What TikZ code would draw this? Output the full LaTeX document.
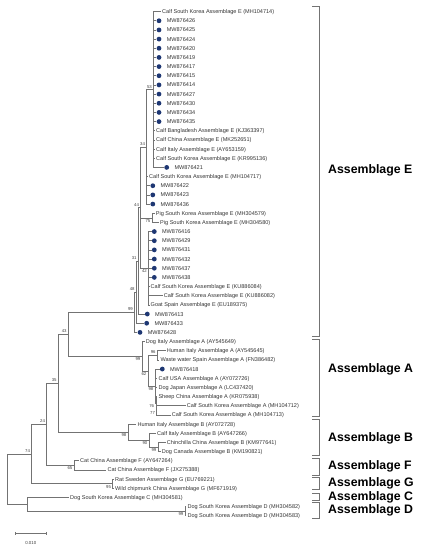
\documentclass[tikz,border=0pt]{standalone}
\usepackage{fontspec}
\setmainfont{Liberation Sans}
\usetikzlibrary{positioning}
\definecolor{dotblue}{RGB}{30,55,115}
\definecolor{treegray}{RGB}{115,115,115}

\begin{document}
\begin{tikzpicture}[
  x=1pt, y=-1pt,
  branch/.style={draw=treegray, line width=0.55pt},
  leaf/.style={anchor=west, inner sep=1pt, text height=4pt, text depth=0pt, font=\fontsize{5.55}{6}\selectfont, text=black!80},
  sample/.style={circle, fill=dotblue, inner sep=0pt, minimum size=4.8pt},
  bootup/.style={anchor=south east, inner sep=0pt, xshift=-1.5pt, yshift=1.2pt, font=\fontsize{4.3}{5}\selectfont, text=black!75},
  bootdown/.style={anchor=north east, inner sep=0pt, xshift=-1.5pt, yshift=-1.2pt, font=\fontsize{4.3}{5}\selectfont, text=black!75},
  group/.style={draw=treegray, line width=0.55pt},
  grouplabel/.style={anchor=west, inner sep=0pt, font=\fontsize{12.3}{14}\selectfont\bfseries}
]
  \useasboundingbox (0,0) rectangle (421,550);

  % Internal nodes, named after their bootstrap values
  \coordinate (e53) at (153.5,89.5);
  \coordinate (e34) at (146.7,146.8);
  \coordinate (e75) at (152.0,217.8);
  \coordinate (e42) at (148.5,268.2);
  \coordinate (e44) at (140.7,207.5);
  \coordinate (e31) at (138.3,260.8);
  \coordinate (e48) at (136.3,292.0);
  \coordinate (e99) at (134.5,312.2);
  \coordinate (a96) at (157.3,355.3);
  \coordinate (a77) at (156.6,410.3);
  \coordinate (a76) at (155.8,403.4);
  \coordinate (a98) at (155.0,386.2);
  \coordinate (a62) at (148.0,370.8);
  \coordinate (a99) at (142.0,356.2);
  \coordinate (n43) at (68.3,334.2);
  \coordinate (b99) at (158.0,446.9);
  \coordinate (b90) at (149.0,440.0);
  \coordinate (b98) at (128.0,432.0);
  \coordinate (n35) at (58.3,383.1);
  \coordinate (f65) at (74.0,465.3);
  \coordinate (n24) at (46.7,424.2);
  \coordinate (g95) at (112.7,483.6);
  \coordinate (n74) at (31.7,453.9);
  \coordinate (d99) at (185.0,511.1);
  \coordinate (cd) at (27.3,504.2);
  \coordinate (root) at (7.3,479.05);

  % Assemblage E leaves
  \node[leaf] (mh104714) at (161,11.6) {Calf South Korea Assemblage E (MH104714)};
  \foreach \r/\id in {1/426,2/425,3/424,4/420,5/419,6/417,7/415,8/414,9/427,10/430,11/434,12/435}{
    \node[sample] (s\id) at (159,{11.6+9.165*\r}) {};
    \node[leaf, right=4pt of s\id] (t\id) {MW876\id};
  }
  \node[leaf] (kj363397) at (155,130.75) {Calf Bangladesh Assemblage E (KJ363397)};
  \node[leaf] (mk252651) at (155,139.91) {Calf China Assemblage E (MK252651)};
  \node[leaf] (ay653159) at (155,149.08) {Calf Italy Assemblage E (AY653159)};
  \node[leaf] (kr995136) at (155,158.24) {Calf South Korea Assemblage E (KR995136)};
  \node[sample] (s421) at (166.7,167.41) {};
  \node[leaf, right=4pt of s421] (t421) {MW876421};
  \node[leaf] (mh104717) at (148,176.57) {Calf South Korea Assemblage E (MH104717)};
  \foreach \r/\id in {19/422,20/423,21/436}{
    \node[sample] (s\id) at (152.8,{11.6+9.165*\r}) {};
    \node[leaf, right=4pt of s\id] (t\id) {MW876\id};
  }
  \node[leaf] (mh304579) at (154.7,213.23) {Pig South Korea Assemblage E (MH304579)};
  \node[leaf] (mh304580) at (159,222.40) {Pig South Korea Assemblage E (MH304580)};
  \foreach \r/\id in {24/416,25/429,26/431,27/432,28/437,29/438}{
    \node[sample] (s\id) at (154.3,{11.6+9.165*\r}) {};
    \node[leaf, right=4pt of s\id] (t\id) {MW876\id};
  }
  \node[leaf] (ku886084) at (149.5,286.55) {Calf South Korea Assemblage E (KU886084)};
  \node[leaf] (ku886082) at (162.7,295.72) {Calf South Korea Assemblage E (KU886082)};
  \node[leaf] (eu189375) at (149.5,304.88) {Goat Spain Assemblage E (EU189375)};
  \foreach \x/\r/\id in {147.3/33/413,146.7/34/433,140/35/428}{
    \node[sample] (s\id) at (\x,{11.6+9.165*\r}) {};
    \node[leaf, right=4pt of s\id] (t\id) {MW876\id};
  }

  % Assemblage A leaves
  \node[leaf] (ay545649) at (144.7,341.54) {Dog Italy Assemblage A (AY545649)};
  \node[leaf] (ay545645) at (165.7,350.71) {Human Italy Assemblage A (AY545645)};
  \node[leaf] (fn386482) at (159.3,359.87) {Waste water Spain Assemblage A (FN386482)};
  \node[sample] (s418) at (162.3,369.04) {};
  \node[leaf, right=4pt of s418] (t418) {MW876418};
  \node[leaf] (ay072726) at (157.3,378.20) {Calf USA Assemblage A (AY072726)};
  \node[leaf] (lc437420) at (157.3,387.37) {Dog Japan Assemblage A (LC437420)};
  \node[leaf] (kr075938) at (157.3,396.53) {Sheep China Assemblage A (KR075938)};
  \node[leaf] (mh104712) at (185.7,405.70) {Calf South Korea Assemblage A (MH104712)};
  \node[leaf] (mh104713) at (170.7,414.86) {Calf South Korea Assemblage A (MH104713)};

  % Assemblages B, F, G, C, D leaves
  \node[leaf] (ay072728) at (136.3,424.03) {Human Italy Assemblage B (AY072728)};
  \node[leaf] (ay647266) at (156,433.19) {Calf Italy Assemblage B (AY647266)};
  \node[leaf] (km977641) at (165.7,442.36) {Chinchilla China Assemblage B (KM977641)};
  \node[leaf] (km190821) at (160.7,451.52) {Dog Canada Assemblage B (KM190821)};
  \node[leaf] (ay647264) at (79,460.69) {Cat China Assemblage F (AY647264)};
  \node[leaf] (jx275388) at (106.3,469.85) {Cat China Assemblage F (JX275388)};
  \node[leaf] (eu769221) at (114,479.02) {Rat Sweden Assemblage G (EU769221)};
  \node[leaf] (mf671919) at (114,488.18) {Wild chipmunk China Assemblage G (MF671919)};
  \node[leaf] (mh304581) at (69,497.35) {Dog South Korea Assemblage C (MH304581)};
  \node[leaf] (mh304582) at (186.3,506.51) {Dog South Korea Assemblage D (MH304582)};
  \node[leaf] (mh304583) at (186.3,515.68) {Dog South Korea Assemblage D (MH304583)};

  % Branches
  \foreach \n in {mh104714,s426,s425,s424,s420,s419,s417,s415,s414,s427,s430,s434,s435,kj363397,mk252651,ay653159,kr995136,s421}
    \draw[branch] (e53) |- (\n);
  \foreach \n in {e53,mh104717,s422,s423,s436} \draw[branch] (e34) |- (\n);
  \foreach \n in {mh304579,mh304580} \draw[branch] (e75) |- (\n);
  \foreach \n in {s416,s429,s431,s432,s437,s438,ku886084,ku886082,eu189375} \draw[branch] (e42) |- (\n);
  \foreach \n in {e34,e75,e42} \draw[branch] (e44) |- (\n);
  \foreach \n in {e44,s413} \draw[branch] (e31) |- (\n);
  \foreach \n in {e31,s433} \draw[branch] (e48) |- (\n);
  \foreach \n in {e48,s428} \draw[branch] (e99) |- (\n);
  \foreach \n in {ay545645,fn386482} \draw[branch] (a96) |- (\n);
  \foreach \n in {mh104712,mh104713} \draw[branch] (a77) |- (\n);
  \foreach \n in {kr075938,a77} \draw[branch] (a76) |- (\n);
  \foreach \n in {s418,ay072726,lc437420,a76} \draw[branch] (a98) |- (\n);
  \foreach \n in {a96,a98} \draw[branch] (a62) |- (\n);
  \foreach \n in {ay545649,a62} \draw[branch] (a99) |- (\n);
  \foreach \n in {e99,a99} \draw[branch] (n43) |- (\n);
  \foreach \n in {km977641,km190821} \draw[branch] (b99) |- (\n);
  \foreach \n in {ay647266,b99} \draw[branch] (b90) |- (\n);
  \foreach \n in {ay072728,b90} \draw[branch] (b98) |- (\n);
  \foreach \n in {n43,b98} \draw[branch] (n35) |- (\n);
  \foreach \n in {ay647264,jx275388} \draw[branch] (f65) |- (\n);
  \foreach \n in {n35,f65} \draw[branch] (n24) |- (\n);
  \foreach \n in {eu769221,mf671919} \draw[branch] (g95) |- (\n);
  \foreach \n in {n24,g95} \draw[branch] (n74) |- (\n);
  \foreach \n in {mh304582,mh304583} \draw[branch] (d99) |- (\n);
  \foreach \n in {mh304581,d99} \draw[branch] (cd) |- (\n);
  \foreach \n in {n74,cd} \draw[branch] (root) |- (\n);

  % Bootstrap values
  \node[bootup] (be53) at (e53) {53};
  \node[bootup] (be34) at (e34) {34};
  \node[bootdown] (be75) at (e75) {75};
  \node[bootup] (be44) at (e44) {44};
  \node[bootdown] (be42) at (e42) {42};
  \node[bootup] (be31) at (e31) {31};
  \node[bootup] (be48) at (e48) {48};
  \node[bootup] (be99) at (e99) {99};
  \node[bootup] (ba96) at (a96) {96};
  \node[bootdown] (ba99) at (a99) {99};
  \node[bootdown] (ba62) at (a62) {62};
  \node[bootdown] (ba98) at (a98) {98};
  \node[bootdown] (ba76) at (a76) {76};
  \node[bootdown] (ba77) at (a77) {77};
  \node[bootup] (bn43) at (n43) {43};
  \node[bootdown] (bb98) at (b98) {98};
  \node[bootdown] (bb90) at (b90) {90};
  \node[bootdown] (bb99) at (b99) {99};
  \node[bootup] (bn35) at (n35) {35};
  \node[bootup] (bn24) at (n24) {24};
  \node[bootdown] (bf65) at (f65) {65};
  \node[bootup] (bn74) at (n74) {74};
  \node[bootdown] (bg95) at (g95) {95};
  \node[bootdown] (bd99) at (d99) {99};

  % Assemblage brackets
  \foreach \top/\bot/\name/\ty in {6/336/E/170,339.5/416.5/A/369,419.5/455/B/438,458.5/475/F/466.5,477.5/489.5/G/483.5,493/500/C/497,502.5/518.5/D/510}{
    \draw[group] (312,\top) -| (319,\bot) -- (312,\bot);
    \node[grouplabel] (asm\name) at (328,\ty) {Assemblage \name};
  }

  % Scale bar
  \draw[branch] (15,533.3) -- (46.7,533.3);
  \draw[branch] (15,531.8) -- (15,534.8) (46.7,531.8) -- (46.7,534.8);
  \node[inner sep=0pt, font=\fontsize{4.4}{5}\selectfont, text=black!75] (scale) at (30.8,543) {0.010};
\end{tikzpicture}
\end{document}
